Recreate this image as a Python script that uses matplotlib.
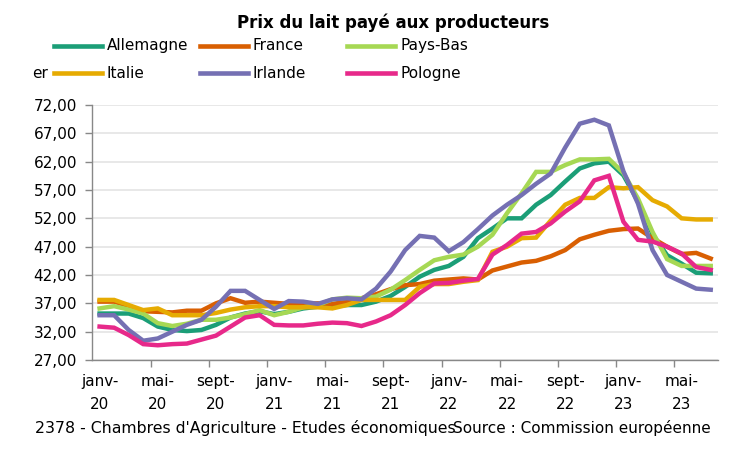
import numpy as np
import matplotlib
matplotlib.use("Agg")
import matplotlib.pyplot as plt
from matplotlib.lines import Line2D
from matplotlib.ticker import FuncFormatter

# Prix du lait payé aux producteurs, mensuel janv-20 -> juil-23
allemagne = [35.2, 35.2, 35.2, 34.4, 32.9, 32.3, 32.1, 32.3, 33.2, 34.5,
             35.2, 35.6, 35.1, 35.5, 36.1, 36.4, 36.5, 36.7, 36.7, 37.3,
             38.3, 39.9, 41.7, 42.9, 43.6, 45.2, 48.5, 50.2, 52.0, 52.0,
             54.4, 56.1, 58.5, 60.8, 61.7, 62.0, 59.6, 55.0, 49.2, 45.5,
             44.0, 42.4, 42.3]
france = [37.3, 37.3, 36.5, 35.6, 35.5, 35.4, 35.7, 35.7, 37.0, 37.9,
          37.1, 37.3, 37.1, 36.9, 36.9, 37.0, 36.9, 37.3, 37.9, 38.6,
          39.5, 40.2, 40.4, 41.0, 41.2, 41.4, 41.2, 42.8, 43.5, 44.2,
          44.5, 45.3, 46.4, 48.3, 49.1, 49.8, 50.1, 50.2, 48.5, 47.0,
          45.7, 45.9, 44.9]
paysbas = [36.1, 36.5, 35.9, 35.2, 33.5, 33.0, 33.4, 34.1, 34.1, 34.5,
           35.1, 35.8, 34.9, 35.5, 36.3, 36.7, 37.7, 38.0, 37.9, 38.2,
           39.4, 41.1, 42.9, 44.6, 45.2, 45.6, 47.0, 49.1, 52.9, 56.4,
           60.2, 60.2, 61.4, 62.4, 62.4, 62.5, 60.0, 55.5, 49.6, 44.8,
           43.6, 43.6, 43.6]
italie = [37.6, 37.6, 36.7, 35.8, 36.1, 34.9, 34.9, 34.9, 35.3, 35.9,
          36.3, 36.5, 36.5, 36.3, 36.3, 36.3, 36.1, 36.7, 37.6, 37.6,
          37.6, 37.6, 39.9, 40.4, 40.4, 40.8, 41.1, 46.1, 47.0, 48.5,
          48.6, 51.6, 54.4, 55.6, 55.6, 57.5, 57.3, 57.5, 55.2, 54.1,
          52.0, 51.8, 51.8]
irlande = [34.9, 34.9, 32.3, 30.4, 30.8, 32.0, 33.2, 34.1, 36.4, 39.2,
           39.2, 37.6, 36.0, 37.4, 37.3, 36.9, 37.7, 37.9, 37.7, 39.6,
           42.6, 46.4, 48.9, 48.6, 46.2, 47.8, 50.1, 52.5, 54.4, 56.1,
           58.1, 59.9, 64.5, 68.7, 69.4, 68.4, 60.3, 54.6, 46.4, 42.0,
           40.8, 39.6, 39.4]
pologne = [32.9, 32.7, 31.4, 29.8, 29.6, 29.8, 29.9, 30.6, 31.3, 32.9,
           34.5, 34.9, 33.2, 33.1, 33.1, 33.4, 33.6, 33.5, 33.0, 33.8,
           34.9, 36.7, 38.8, 40.5, 40.6, 41.0, 41.3, 45.6, 47.3, 49.3,
           49.6, 51.1, 53.2, 55.0, 58.7, 59.5, 51.4, 48.2, 47.9, 47.0,
           45.8, 43.4, 42.9]

pays = ["Allemagne", "France", "Pays-Bas", "Italie", "Irlande", "Pologne"]
couleurs = ["#1b9e77", "#d95f02", "#a6d854", "#e6ab02", "#7570b3", "#e7298a"]
series = [allemagne, france, paysbas, italie, irlande, pologne]

etiquettes_x = ["janv-\n20", "mai-\n20", "sept-\n20", "janv-\n21", "mai-\n21",
                "sept-\n21", "janv-\n22", "mai-\n22", "sept-\n22", "janv-\n23",
                "mai-\n23"]

plt.rcParams['font.family'] = ['DejaVu Sans']
W, H = 737, 457
fig = plt.figure(figsize=(W / 100, H / 100), dpi=100)
ax = fig.add_axes([92.3 / W, 1 - 360 / H, (718 - 92.3) / W, 255 / H])

x = np.arange(len(allemagne))
for vals, c in zip(series, couleurs):
    ax.plot(x, vals, color=c, lw=3.2, solid_joinstyle="miter", zorder=3)

ax.set_xlim(-0.5, len(x) - 0.5)
ax.set_ylim(27, 72)
ax.set_yticks(np.arange(27, 73, 5))
ax.yaxis.set_major_formatter(FuncFormatter(lambda v, p: f"{v:.2f}".replace(".", ",")))
ax.yaxis.grid(True, color="#e6e6e6", lw=1.3, zorder=0)

# labels centred on the months, small ticks between groups of 4 months
ax.set_xticks(np.arange(0, len(x), 4))
ax.set_xticklabels(etiquettes_x, linespacing=1.65)
ax.set_xticks(np.arange(3.5, len(x) - 1, 4), minor=True)
ax.tick_params(axis="x", which="major", length=0, pad=10, labelsize=11)
ax.tick_params(axis="x", which="minor", length=5, color="#888888", width=1)
ax.tick_params(axis="y", length=5, color="#888888", width=1, pad=6, labelsize=11)

for s in ["top", "right"]:
    ax.spines[s].set_visible(False)
for s in ["left", "bottom"]:
    ax.spines[s].set_color("#888888")
    ax.spines[s].set_linewidth(1)

fig.text(393 / W, 1 - 23 / H, "Prix du lait payé aux producteurs",
         ha="center", va="center", fontsize=12, fontweight="bold")

# legende : 2 lignes x 3 colonnes
col_x = [54, 200, 347]
row_y = [45.7, 73.3]
for k, (nom, c) in enumerate(zip(pays, couleurs)):
    x0 = col_x[k % 3]
    y0 = 1 - row_y[k // 3] / H
    fig.add_artist(Line2D([x0 / W, (x0 + 48) / W], [y0, y0], color=c, lw=3.3,
                          transform=fig.transFigure))
    fig.text((x0 + 53) / W, y0, nom, va="center", fontsize=11)

fig.text(32 / W, 1 - 73.3 / H, "er", va="center", fontsize=11)

fig.text(35 / W, 1 - 428 / H, "2378 - Chambres d'Agriculture - Etudes économiques",
         va="center", fontsize=11.3)
fig.text(453 / W, 1 - 428 / H, "Source : Commission européenne",
         va="center", fontsize=11)

fig.savefig("out.png", dpi=100)
